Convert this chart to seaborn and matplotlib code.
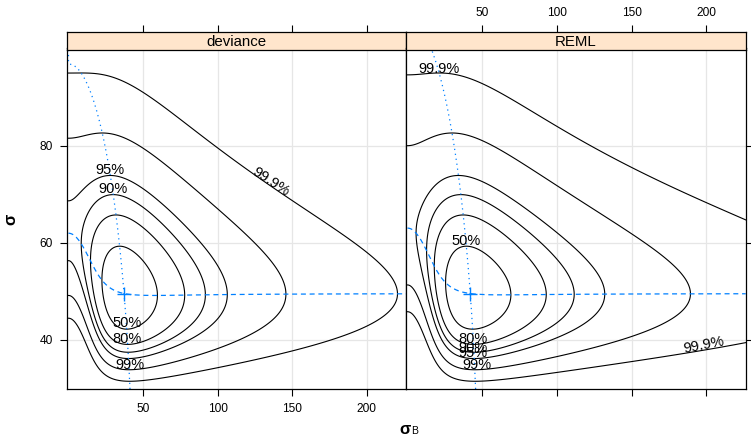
import numpy as np
import matplotlib
matplotlib.use("Agg")
import matplotlib.pyplot as plt
import seaborn as sns

# --- data: Dyestuff yields, 6 batches x 5 preparations ---
batch_A = [1545, 1440, 1440, 1520, 1580]
batch_B = [1540, 1555, 1490, 1560, 1495]
batch_C = [1595, 1550, 1605, 1510, 1560]
batch_D = [1445, 1440, 1595, 1465, 1545]
batch_E = [1595, 1630, 1515, 1635, 1625]
batch_F = [1520, 1455, 1450, 1480, 1445]

conf_levels = [0.5, 0.8, 0.9, 0.95, 0.99, 0.999]
panel_names = ["deviance", "REML"]
x_ticks = [50, 100, 150, 200]
y_ticks = [40, 60, 80]

# contour label placement: label, x, y, rotation
label_pos = {
    "deviance": [("95%", 28, 75.0, 0), ("90%", 30, 71.0, 0),
                 ("50%", 39, 43.4, 0), ("80%", 39, 40.1, 0),
                 ("99%", 41.5, 34.8, 0), ("99.9%", 136, 72.6, -33)],
    "REML": [("99.9%", 21, 95.9, 0), ("50%", 39, 60.3, 0),
             ("80%", 43.5, 40.1, 0), ("90%", 43.5, 38.3, 0),
             ("95%", 43.5, 37.2, 0), ("99%", 46.3, 34.8, 0),
             ("99.9%", 198.5, 38.8, 11)],
}

sns.set_theme(style="white")
plt.rcParams['font.family'] = ['Liberation Sans', 'DejaVu Sans']

yields = np.array([batch_A, batch_B, batch_C, batch_D, batch_E, batch_F], dtype=float)
k, n = yields.shape
means = yields.mean(axis=1)
ssw = ((yields - means[:, None]) ** 2).sum()
ssb = n * ((means - means.mean()) ** 2).sum()


def crit(sb, s, reml):
    s2 = s ** 2
    tau = s2 + n * sb ** 2
    p = k - 1 if reml else k
    return k * (n - 1) * np.log(s2) + p * np.log(tau) + ssw / s2 + ssb / tau


XLIM = (-1.0, 226.3)
YLIM = (29.8, 100.2)
BLUE = "#0080ff"
GRID = "#e6e6e6"
STRIP = "#ffe5cc"

fig = plt.figure(figsize=(7.51, 4.37), dpi=100)
W, H = 751, 437
panels = [(67, 406), (406, 745.7)]

for i, name in enumerate(panel_names):
    reml = name == "REML"
    x0, x1 = panels[i]
    ax = fig.add_axes([x0 / W, 48 / H, (x1 - x0) / W, 341 / H])
    st = fig.add_axes([x0 / W, (H - 50) / H, (x1 - x0) / W, 18.3 / H], sharex=ax)

    p = k - 1 if reml else k
    s_hat = np.sqrt(ssw / (k * (n - 1)))
    sb_hat = np.sqrt((ssb / p - s_hat ** 2) / n)
    dmin = crit(sb_hat, s_hat, reml)

    sb = np.linspace(-4, 230, 600)
    s = np.linspace(28, 102, 600)
    SB, S = np.meshgrid(sb, s)
    Z = crit(SB, S, reml) - dmin
    lev = [-2 * np.log(1 - c) for c in conf_levels]
    ax.contour(SB, S, Z, levels=lev, colors="black", linewidths=0.8)

    # profile trace: best sigma for each sigma_B (dashed)
    sb_line = np.linspace(0, 226.3, 300)
    s_fine = np.linspace(20, 120, 8001)
    zz = crit(sb_line[:, None], s_fine[None, :], reml)
    s_opt = s_fine[zz.argmin(axis=1)]
    sns.lineplot(x=sb_line, y=s_opt, ax=ax, color=BLUE, lw=0.9,
                 sort=False, estimator=None).lines[-1].set_dashes((4, 3))

    # profile trace: best sigma_B for each sigma (dotted)
    s_line = np.linspace(YLIM[0], YLIM[1], 300)
    sb_opt = np.sqrt(np.clip(ssb / p - s_line ** 2, 0, None) / n)
    sns.lineplot(x=sb_opt, y=s_line, ax=ax, color=BLUE, lw=0.9,
                 sort=False, estimator=None).lines[-1].set_dashes((1, 3))

    ax.plot([sb_hat], [s_hat], marker="+", color=BLUE, ms=10, mew=1)

    for lab, lx, ly, rot in label_pos[name]:
        ax.text(lx, ly, lab, fontsize=10.5, ha="center", va="center",
                rotation=rot, color="black", rotation_mode="anchor")

    ax.set_xlim(XLIM)
    ax.set_ylim(YLIM)
    ax.set_xticks(x_ticks)
    ax.set_yticks(y_ticks)
    ax.grid(True, color=GRID, lw=0.9)
    ax.set_axisbelow(True)
    for sp in ax.spines.values():
        sp.set_color("black")
        sp.set_linewidth(0.9)
    ax.tick_params(direction="out", length=5, width=0.8, color="black",
                   labelsize=8.6, labelcolor="black", pad=5)
    if i == 0:
        ax.tick_params(left=True, right=False, bottom=True, top=False,
                       labelleft=True, labelbottom=True)
    else:
        ax.tick_params(left=False, right=True, bottom=True, top=False,
                       labelleft=False, labelright=False, labelbottom=False)

    st.set_facecolor(STRIP)
    st.set_ylim(0, 1)
    st.set_yticks([])
    st.grid(False)
    for sp in st.spines.values():
        sp.set_color("black")
        sp.set_linewidth(0.9)
    st.xaxis.tick_top()
    st.tick_params(axis="x", direction="out", length=5, width=0.8, color="black",
                   labelsize=8.6, labelcolor="black", pad=4,
                   top=True, bottom=False, labelbottom=False, labeltop=(i == 1))
    st.text(0.5, 0.45, name, transform=st.transAxes, ha="center", va="center",
            fontsize=10.8, color="black")

fig.text(411 / W, 1 - 429 / H, "σ", fontsize=12, fontweight="bold",
         ha="right", va="center", color="black")
fig.text(411 / W, 1 - 431.5 / H, "B", fontsize=7.5, ha="left", va="center", color="black")
fig.text(11 / W, 1 - 219 / H, "σ", fontsize=12, fontweight="bold", rotation=90,
         ha="center", va="center", color="black")

fig.savefig("out.png", dpi=100)
